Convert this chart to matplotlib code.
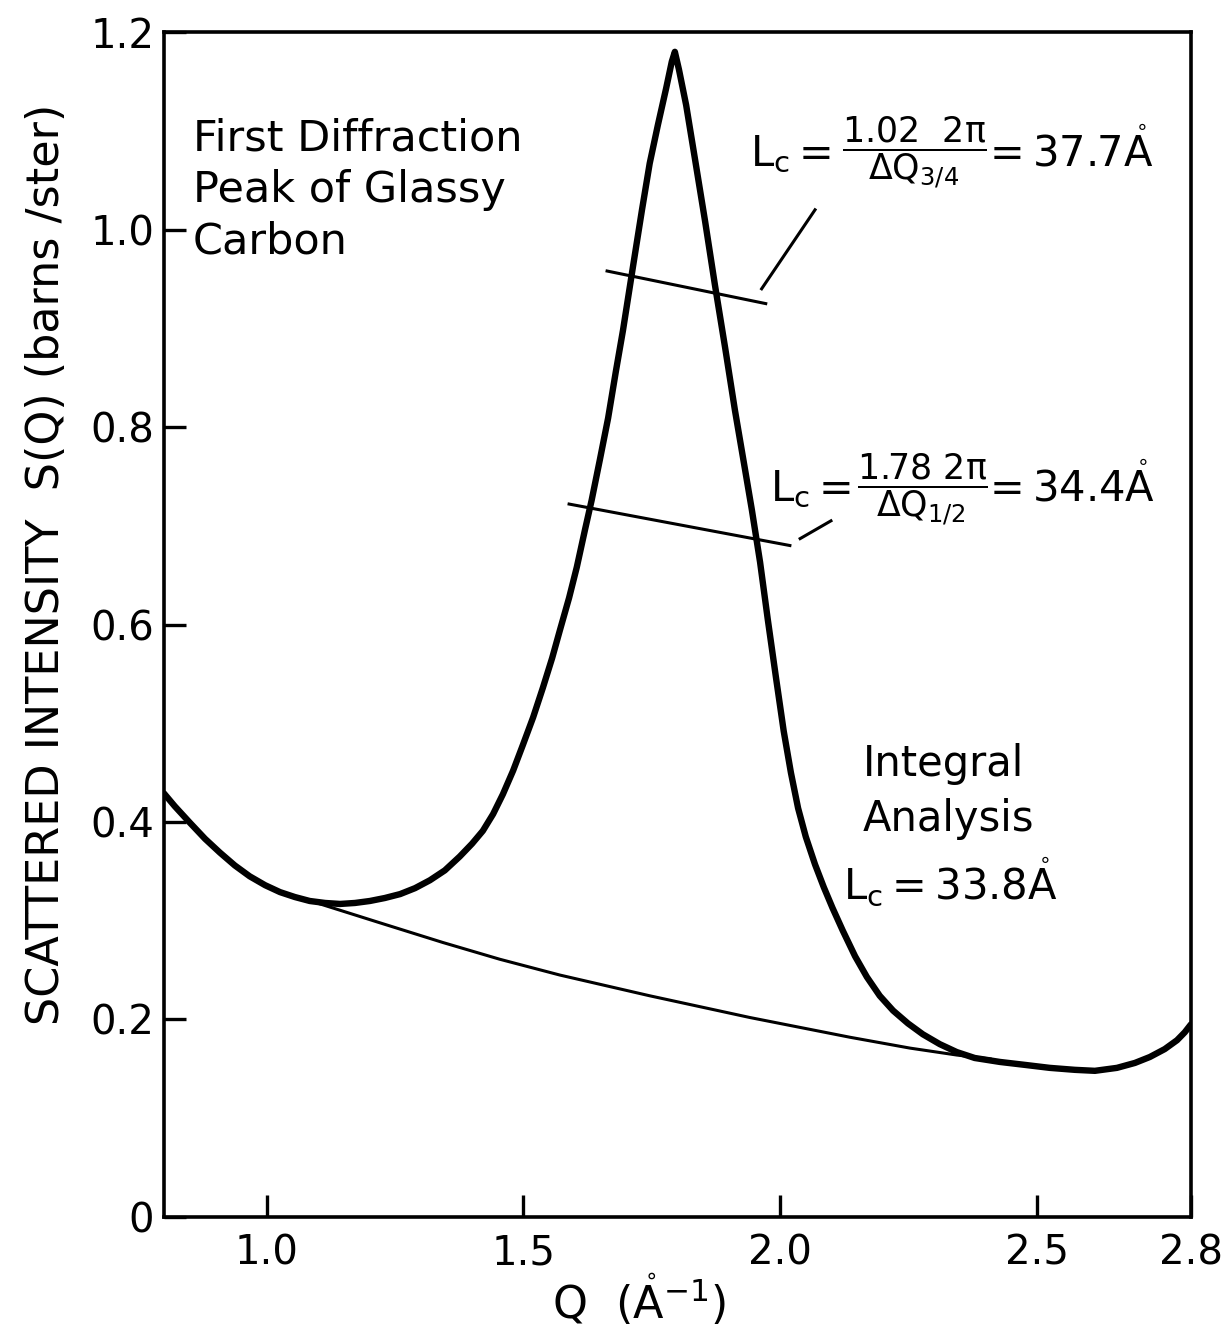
import matplotlib
matplotlib.use("Agg")
import matplotlib.pyplot as plt

plt.rcParams['font.family'] = ['DejaVu Sans']
plt.rcParams['mathtext.fontset'] = 'dejavusans'
plt.rcParams['mathtext.default'] = 'regular'

q_data = [0.800, 0.821, 0.851, 0.880, 0.909, 0.938, 0.967, 0.997, 1.026, 1.055,
          1.084, 1.114, 1.143, 1.172, 1.201, 1.230, 1.260, 1.289, 1.318, 1.347,
          1.376, 1.400, 1.421, 1.441, 1.460, 1.480, 1.499, 1.519, 1.538, 1.556,
          1.571, 1.589, 1.604, 1.620, 1.633, 1.649, 1.665, 1.680, 1.694, 1.713,
          1.731, 1.746, 1.762, 1.778, 1.789, 1.795,
          1.803, 1.817, 1.834, 1.854, 1.873, 1.893, 1.912, 1.931, 1.945, 1.961,
          1.976, 1.992, 2.007, 2.021, 2.035, 2.050, 2.068, 2.085, 2.102, 2.122,
          2.146, 2.169, 2.194, 2.220, 2.249, 2.278, 2.311, 2.344, 2.379, 2.428,
          2.477, 2.525, 2.574, 2.613, 2.656, 2.691, 2.720, 2.749, 2.773, 2.788,
          2.800]
s_data = [0.429, 0.416, 0.399, 0.383, 0.369, 0.356, 0.345, 0.336, 0.329, 0.324,
          0.320, 0.318, 0.317, 0.318, 0.320, 0.323, 0.327, 0.333, 0.341, 0.351,
          0.365, 0.378, 0.391, 0.408, 0.428, 0.452, 0.478, 0.506, 0.536, 0.566,
          0.594, 0.627, 0.658, 0.696, 0.726, 0.767, 0.809, 0.856, 0.898, 0.961,
          1.020, 1.067, 1.106, 1.143, 1.170, 1.180,
          1.162, 1.126, 1.072, 1.008, 0.944, 0.880, 0.817, 0.759, 0.716, 0.663,
          0.605, 0.546, 0.492, 0.450, 0.414, 0.385, 0.357, 0.334, 0.313, 0.290,
          0.264, 0.243, 0.224, 0.209, 0.196, 0.185, 0.175, 0.167, 0.161, 0.157,
          0.154, 0.151, 0.149, 0.148, 0.151, 0.156, 0.162, 0.170, 0.179, 0.187,
          0.195]

# background (thin line)
q_bg = [1.098, 1.220, 1.343, 1.454, 1.571, 1.746, 1.941, 2.136, 2.253, 2.344, 2.409]
s_bg = [0.318, 0.298, 0.278, 0.261, 0.245, 0.224, 0.202, 0.182, 0.171, 0.164, 0.160]

# width markers and leader lines
q_w34 = [1.663, 1.972]
s_w34 = [0.958, 0.925]
q_lead34 = [1.964, 2.068]
s_lead34 = [0.940, 1.020]
q_w12 = [1.589, 2.019]
s_w12 = [0.722, 0.680]
q_lead12 = [2.039, 2.099]
s_lead12 = [0.687, 0.705]

xticks = [1.0, 1.5, 2.0, 2.5, 2.8]
xticklabels = ['1.0', '1.5', '2.0', '2.5', '2.8']
yticks = [0, 0.2, 0.4, 0.6, 0.8, 1.0, 1.2]
yticklabels = ['0', '0.2', '0.4', '0.6', '0.8', '1.0', '1.2']

fig = plt.figure(figsize=(12.29, 13.36), dpi=100)
ax = fig.add_axes([0.1334, 0.0891, 0.8356, 0.8869])

ax.plot(q_data, s_data, color='black', lw=4.6, solid_joinstyle='round', solid_capstyle='round')
ax.plot(q_bg, s_bg, color='black', lw=2.2)
ax.plot(q_w34, s_w34, color='black', lw=2.2)
ax.plot(q_lead34, s_lead34, color='black', lw=2.2)
ax.plot(q_w12, s_w12, color='black', lw=2.2)
ax.plot(q_lead12, s_lead12, color='black', lw=2.2)

ax.set_xlim(0.8, 2.8)
ax.set_ylim(0, 1.2)
ax.set_xticks(xticks)
ax.set_xticklabels(xticklabels)
ax.set_yticks(yticks)
ax.set_yticklabels(yticklabels)
ax.tick_params(direction='in', length=16, width=2.4, labelsize=29)
ax.tick_params(axis='x', pad=12)
ax.tick_params(axis='y', pad=7)

for sp in ax.spines.values():
    sp.set_linewidth(2.6)

ax.set_xlabel(r'Q  ($\mathring{A}^{-1}$)', fontsize=32)
ax.xaxis.set_label_coords(0.463, -0.047)
ax.set_ylabel('SCATTERED INTENSITY  S(Q) (barns /ster)', fontsize=32)
ax.yaxis.set_label_coords(-0.093, 0.551)

ax.text(0.856, 1.040, 'First Diffraction\nPeak of Glassy\nCarbon',
        fontsize=31, va='center', ha='left', linespacing=1.3)

# L_c from the 3/4-height width
ax.text(1.941, 1.064, r'$L_c =$', fontsize=30, va='baseline', ha='left')
ax.text(2.261, 1.078, r'$\dfrac{1.02\ \ 2\pi}{\Delta Q_{3/4}}$', fontsize=25, va='center', ha='center')
ax.text(2.392, 1.064, r'$= 37.7\mathring{A}$', fontsize=30, va='baseline', ha='left')

# L_c from the half-height width
ax.text(1.980, 0.725, r'$L_c =$', fontsize=30, va='baseline', ha='left')
ax.text(2.278, 0.736, r'$\dfrac{1.78\ 2\pi}{\Delta Q_{1/2}}$', fontsize=25, va='center', ha='center')
ax.text(2.392, 0.725, r'$= 34.4\mathring{A}$', fontsize=30, va='baseline', ha='left')

ax.text(2.161, 0.431, 'Integral\nAnalysis', fontsize=30, va='center', ha='left',
        linespacing=1.39)
ax.text(2.122, 0.322, r'$L_c = 33.8\mathring{A}$', fontsize=30, va='baseline', ha='left')

plt.savefig('out.png', dpi=100)
